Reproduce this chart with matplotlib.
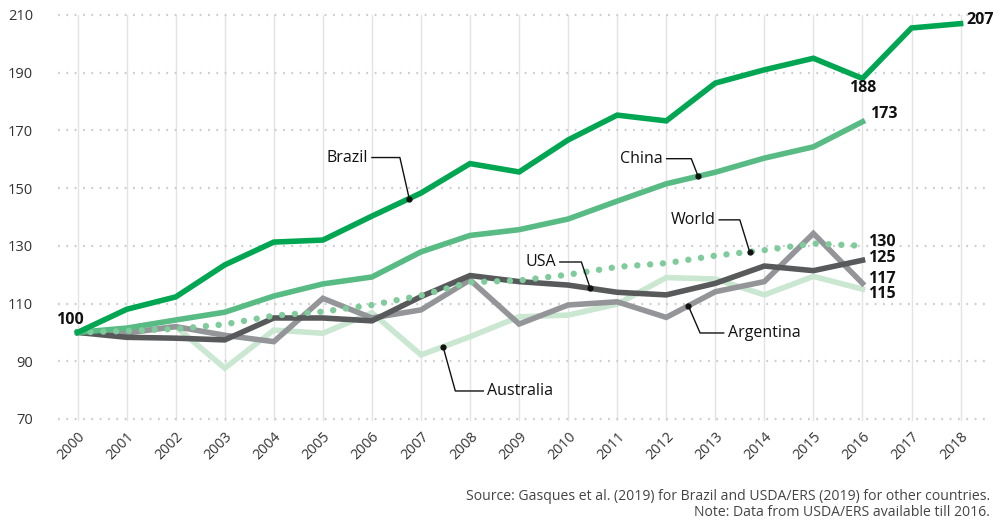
import numpy as np
import matplotlib.pyplot as plt

plt.rcParams['font.family'] = ['Open Sans', 'DejaVu Sans']

years = list(range(2000, 2019))
years_other = list(range(2000, 2017))

brazil = [100, 108, 112.3, 123.4, 131.3, 132, 140.3, 148.3, 158.5, 155.6, 166.7,
          175.3, 173.3, 186.4, 191, 195, 188, 205.5, 207]
china = [100, 101.5, 104.3, 107, 112.6, 116.8, 119.2, 127.9, 133.6, 135.6, 139.3,
         145.5, 151.5, 155.5, 160.4, 164.3, 173]
world = [100, 100.5, 101.2, 102.8, 105.8, 107.2, 109.5, 112.8, 117.4, 118, 120,
         122.7, 124, 126.6, 128.5, 130.8, 130]
usa = [100, 98.3, 98, 97.4, 105, 105, 104, 112.4, 119.7, 117.6, 116.4,
       113.9, 113, 117, 123, 121.4, 125]
argentina = [100, 99.8, 102, 99, 96.8, 111.8, 105, 107.8, 118.2, 102.9, 109.5,
             110.6, 105.2, 114.1, 117.6, 134.3, 117]
australia = [100, 100.2, 102, 87.6, 100.8, 99.7, 106.8, 92.2, 98.5, 105.4, 106,
             109.8, 119, 118.5, 113, 119.4, 115]

yticks = [70, 90, 110, 130, 150, 170, 190, 210]

fig = plt.figure(figsize=(10, 5.22), dpi=100)
ax = fig.add_axes([0.058, 0.1935, 0.932, 0.7778])

# grid: solid verticals, dotted horizontals
for yr in years:
    ax.axvline(yr, color='#e3e3e3', lw=1, zorder=0)
for v in yticks:
    ax.axhline(v, color='#cccccc', lw=1.6, linestyle=(0, (0.8, 2.95)), zorder=0,
               clip_on=False)

lw = 4
ax.plot(years_other, australia, color='#c9e7d1', lw=lw, solid_joinstyle='miter', zorder=2)
ax.plot(years_other, argentina, color='#939598', lw=lw, solid_joinstyle='miter', zorder=3)
ax.plot(years_other, usa, color='#58595b', lw=lw, solid_joinstyle='miter', zorder=4)
ax.plot(years_other, china, color='#57bb83', lw=lw, solid_joinstyle='miter', zorder=5)
ax.plot(years_other, world, color='#7fcb9b', lw=4.6, linestyle=(0, (0.01, 2.0)),
        dash_capstyle='round', zorder=6)
ax.plot(years, brazil, color='#00a651', lw=lw, solid_joinstyle='miter', zorder=7)

ax.set_xlim(1999.6, 2018.6)
ax.set_ylim(69.3, 210)
ax.set_yticks(yticks)
ax.set_xticks(years)
ax.set_xticklabels([str(y) for y in years], rotation=45, ha='right',
                   rotation_mode='anchor', fontsize=10.3, color='#333333')
ax.tick_params(axis='y', labelsize=10.5, labelcolor='#333333', length=0, pad=18)
ax.tick_params(axis='x', length=0, pad=6)
for s in ax.spines.values():
    s.set_visible(False)

# value labels
bold = dict(fontsize=11.5, fontweight='bold', color='#111111', zorder=10)
ax.text(1999.84, 104.3, '100', ha='center', va='center', **bold)
ax.text(2018.12, 208.3, '207', ha='left', va='center', **bold)
ax.text(2016, 184.7, '188', ha='center', va='center', **bold)
ax.text(2016.15, 175.7, '173', ha='left', va='center', **bold)
ax.text(2016.12, 131.5, '130', ha='left', va='center', **bold)
ax.text(2016.12, 125.9, '125', ha='left', va='center', **bold)
ax.text(2016.12, 118.6, '117', ha='left', va='center', **bold)
ax.text(2016.12, 113.2, '115', ha='left', va='center', **bold)


def leader(label, series, xs, tx, ty, kx, px, side='left'):
    # text, horizontal stub to the knee, then a slanted line to a dot on the series
    py = np.interp(px, xs, series)
    ha = 'right' if side == 'left' else 'left'
    ax.text(tx, ty, label, ha=ha, va='center', fontsize=11.5, color='#111111', zorder=10)
    gap = 0.08 if side == 'left' else -0.08
    ax.plot([tx + gap, kx, px], [ty, ty, py], color='#111111', lw=1, zorder=9)
    ax.plot(px, py, 'o', color='#111111', ms=3.5, zorder=9)


leader('Brazil', brazil, years, 2005.92, 160.6, 2006.57, 2006.76)
leader('China', china, years_other, 2011.93, 160.2, 2012.51, 2012.65)
leader('World', world, years_other, 2013.0, 139.0, 2013.5, 2013.7)
leader('USA', usa, years_other, 2009.75, 124.4, 2010.27, 2010.45)
leader('Argentina', argentina, years_other, 2013.25, 99.8, 2012.69, 2012.45, side='right')
leader('Australia', australia, years_other, 2008.35, 79.7, 2007.7, 2007.45, side='right')

fig.text(0.99, 0.004, 'Source: Gasques et al. (2019) for Brazil and USDA/ERS (2019) for other countries.\n'
         'Note: Data from USDA/ERS available till 2016.', ha='right', va='bottom',
         fontsize=10.1, color='#444444', linespacing=1.05)

fig.savefig('out.png', dpi=100)
